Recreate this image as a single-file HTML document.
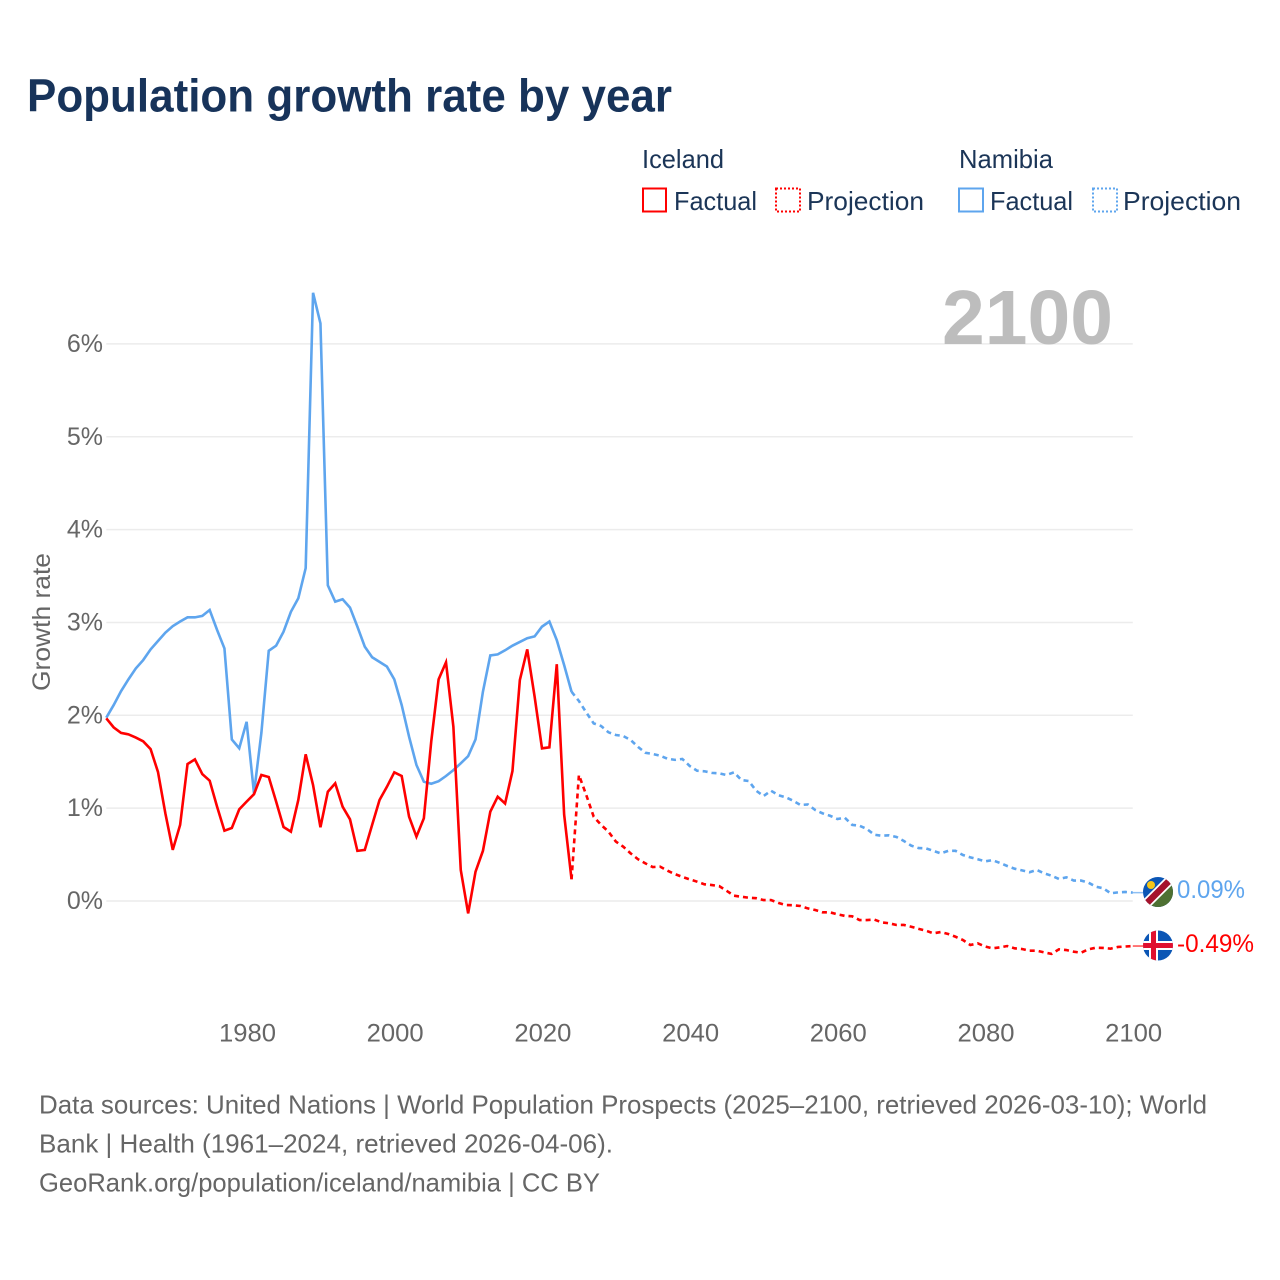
<!DOCTYPE html>
<html lang="en">
<head>
<meta charset="utf-8">
<title>Population growth rate by year</title>
<style>
html,body{margin:0;padding:0;background:#fff;}
svg{display:block;font-family:"Liberation Sans",sans-serif;}
</style>
</head>
<body>
<svg id="chart" xmlns="http://www.w3.org/2000/svg" width="1280" height="1280" viewBox="0 0 1280 1280">
  <defs>
    <clipPath id="flag-clip-namibia"><circle id="clip-nam" cx="1158" cy="892" r="15"/></clipPath>
    <clipPath id="flag-clip-iceland"><circle id="clip-ice" cx="1158" cy="945.500" r="15"/></clipPath>
  </defs>
  <rect width="1280" height="1280" fill="#ffffff"/>
  <text x="27" y="111.500" font-size="46" font-weight="700" fill="#17335a" textLength="645" lengthAdjust="spacingAndGlyphs">Population growth rate by year</text>

  <g font-size="26" fill="#1b3557">
    <text x="642" y="168" textLength="82" lengthAdjust="spacingAndGlyphs">Iceland</text>
    <rect x="643" y="188.500" width="23" height="23" fill="none" stroke="#ff0000" stroke-width="2"/>
    <text x="674" y="210" textLength="83" lengthAdjust="spacingAndGlyphs">Factual</text>
    <rect x="776" y="188.500" width="24" height="23" fill="none" stroke="#ff0000" stroke-width="2" stroke-dasharray="2 2"/>
    <text x="807" y="210" textLength="117" lengthAdjust="spacingAndGlyphs">Projection</text>
    <text x="959" y="168" textLength="94" lengthAdjust="spacingAndGlyphs">Namibia</text>
    <rect x="959" y="188.500" width="24" height="23" fill="none" stroke="#5ea5ee" stroke-width="2"/>
    <text x="990" y="210" textLength="83" lengthAdjust="spacingAndGlyphs">Factual</text>
    <rect x="1093" y="188.500" width="24" height="23" fill="none" stroke="#5ea5ee" stroke-width="2" stroke-dasharray="2 2"/>
    <text x="1123" y="210" textLength="118" lengthAdjust="spacingAndGlyphs">Projection</text>
  </g>

  <g id="grid"></g>
  <text x="942" y="344" font-size="77" font-weight="700" fill="#bdbdbd" textLength="171" lengthAdjust="spacingAndGlyphs">2100</text>
  <g id="y-axis"></g>
  <g id="x-axis"></g>
  <text transform="translate(50,622) rotate(-90)" text-anchor="middle" font-size="25" fill="#666666" textLength="138" lengthAdjust="spacingAndGlyphs">Growth rate</text>
  <g id="series"></g>

  <g id="flag-namibia" clip-path="url(#flag-clip-namibia)">
    <rect x="1143" y="877" width="30" height="30" fill="#0b56b5"/>
    <polygon points="1173,877 1173,907 1143,907" fill="#4e7032"/>
    <line x1="1140" y1="910" x2="1176" y2="874" stroke="#ffffff" stroke-width="10"/>
    <line x1="1140" y1="910" x2="1176" y2="874" stroke="#a5122c" stroke-width="6.500"/>
    <circle cx="1151" cy="885" r="4" fill="#f5c518"/>
  </g>
  <g id="flag-iceland" clip-path="url(#flag-clip-iceland)">
    <rect x="1143" y="930.500" width="30" height="30" fill="#0b56b5"/>
    <rect x="1149" y="930.500" width="9" height="30" fill="#ffffff"/>
    <rect x="1143" y="941" width="30" height="9" fill="#ffffff"/>
    <rect x="1151" y="930.500" width="5" height="30" fill="#e01030"/>
    <rect x="1143" y="943" width="30" height="5" fill="#e01030"/>
  </g>
  <text id="label-namibia" x="1177" y="898" font-size="25" fill="#5ea5ee" textLength="68" lengthAdjust="spacingAndGlyphs"></text>
  <text id="label-iceland" x="1177" y="952" font-size="25" fill="#ff0000" textLength="77" lengthAdjust="spacingAndGlyphs"></text>

  <g font-size="26" fill="#666666">
    <text x="39" y="1113.500" textLength="1168" lengthAdjust="spacingAndGlyphs">Data sources: United Nations | World Population Prospects (2025–2100, retrieved 2026-03-10); World</text>
    <text x="39" y="1152.500" textLength="574" lengthAdjust="spacingAndGlyphs">Bank | Health (1961–2024, retrieved 2026-04-06).</text>
    <text x="39" y="1191.500" textLength="561" lengthAdjust="spacingAndGlyphs">GeoRank.org/population/iceland/namibia | CC BY</text>
  </g>
</svg>
<script>
const yTicks = [0, 1, 2, 3, 4, 5, 6];
const yTickLabels = ["0%", "1%", "2%", "3%", "4%", "5%", "6%"];
const xTicks = [1980, 2000, 2020, 2040, 2060, 2080, 2100];
const xTickLabels = ["1980", "2000", "2020", "2040", "2060", "2080", "2100"];
const factualStartYear = 1961;
const projectionStartYear = 2024;
const icelandFactual = [1.967,1.87,1.81,1.795,1.76,1.72,1.636,1.39,0.944,0.55,0.82,1.475,1.525,1.367,1.296,1.016,0.757,0.786,0.987,1.07,1.15,1.357,1.335,1.07,0.797,0.747,1.088,1.58,1.249,0.794,1.177,1.267,1.016,0.88,0.54,0.55,0.82,1.088,1.23,1.386,1.346,0.908,0.693,0.89,1.716,2.387,2.57,1.877,0.334,-0.133,0.316,0.54,0.962,1.123,1.05,1.40,2.38,2.71,2.2,1.644,1.655,2.55,0.93,0.234];
const icelandProjection = [0.234,1.357,1.14,0.908,0.82,0.747,0.64,0.585,0.513,0.45,0.405,0.366,0.37,0.326,0.29,0.26,0.233,0.208,0.18,0.172,0.16,0.11,0.057,0.046,0.035,0.03,0.01,0.01,-0.02,-0.043,-0.046,-0.054,-0.08,-0.097,-0.122,-0.122,-0.143,-0.16,-0.165,-0.205,-0.205,-0.2,-0.23,-0.24,-0.258,-0.258,-0.277,-0.30,-0.32,-0.348,-0.334,-0.355,-0.385,-0.42,-0.474,-0.456,-0.49,-0.51,-0.50,-0.485,-0.51,-0.517,-0.535,-0.535,-0.553,-0.57,-0.52,-0.528,-0.546,-0.557,-0.52,-0.503,-0.506,-0.513,-0.495,-0.49,-0.485];
const namibiaFactual = [1.974,2.11,2.26,2.387,2.505,2.595,2.71,2.80,2.89,2.96,3.01,3.055,3.055,3.07,3.134,2.92,2.72,1.74,1.645,1.93,1.16,1.81,2.695,2.75,2.90,3.115,3.26,3.585,6.55,6.22,3.40,3.224,3.25,3.16,2.955,2.74,2.625,2.575,2.525,2.387,2.11,1.77,1.465,1.285,1.263,1.29,1.346,1.41,1.483,1.56,1.74,2.254,2.645,2.656,2.70,2.75,2.79,2.83,2.85,2.955,3.01,2.81,2.54,2.254];
const namibiaProjection = [2.254,2.154,2.03,1.913,1.885,1.817,1.788,1.777,1.734,1.66,1.597,1.583,1.565,1.532,1.52,1.53,1.454,1.403,1.397,1.38,1.375,1.357,1.386,1.303,1.292,1.188,1.13,1.188,1.14,1.117,1.08,1.034,1.04,0.98,0.944,0.918,0.883,0.897,0.82,0.81,0.775,0.714,0.703,0.707,0.69,0.646,0.596,0.57,0.567,0.54,0.513,0.54,0.54,0.495,0.47,0.45,0.427,0.44,0.41,0.377,0.348,0.33,0.31,0.334,0.298,0.272,0.237,0.255,0.22,0.22,0.197,0.154,0.137,0.083,0.093,0.097,0.09];
const endValueLabels = ["0.09%", "-0.49%"];

const NS = "http://www.w3.org/2000/svg";
function xScale(year) { return 246.6 + (year - 1980) * 7.385; }
function yScale(value) { return 901 - value * 92.85; }
function pathFrom(values, startYear) {
  return values.map(function (v, i) {
    return (i ? "L" : "M") + xScale(startYear + i).toFixed(2) + " " + yScale(v).toFixed(2);
  }).join(" ");
}

const grid = document.getElementById("grid");
const yAxis = document.getElementById("y-axis");
const xAxis = document.getElementById("x-axis");
const series = document.getElementById("series");

yTicks.forEach(function (t, i) {
  const line = document.createElementNS(NS, "line");
  
  
  line.setAttribute("x1", xScale(factualStartYear));
  line.setAttribute("x2", xScale(2100));
  line.setAttribute("y1", yScale(t));
  line.setAttribute("y2", yScale(t));
  line.setAttribute("stroke", "#ececec");
  line.setAttribute("stroke-width", "1.5");
  grid.appendChild(line);

  const label = document.createElementNS(NS, "text");
  
  
  label.setAttribute("x", "103");
  label.setAttribute("y", yScale(t) + 8);
  label.setAttribute("text-anchor", "end");
  label.setAttribute("font-size", "25");
  label.setAttribute("fill", "#666666");
  label.textContent = yTickLabels[i];
  yAxis.appendChild(label);
});

xTicks.forEach(function (t, i) {
  const label = document.createElementNS(NS, "text");
  
  
  label.setAttribute("x", xScale(t) + 0.9);
  label.setAttribute("y", "1041.5");
  label.setAttribute("text-anchor", "middle");
  label.setAttribute("font-size", "25");
  label.setAttribute("fill", "#666666");
  label.setAttribute("textLength", "57");
  label.setAttribute("lengthAdjust", "spacingAndGlyphs");
  label.textContent = xTickLabels[i];
  xAxis.appendChild(label);
});

function addLine(name, values, startYear, color, dash) {
  const p = document.createElementNS(NS, "path");
  
  
  p.setAttribute("d", pathFrom(values, startYear));
  p.setAttribute("fill", "none");
  p.setAttribute("stroke", color);
  p.setAttribute("stroke-width", "2.6");
  p.setAttribute("stroke-linejoin", "miter");
  if (dash) p.setAttribute("stroke-dasharray", dash);
  series.appendChild(p);
}
addLine("namibia-factual-line", namibiaFactual, factualStartYear, "#5ea5ee", null);
addLine("iceland-factual-line", icelandFactual, factualStartYear, "#ff0000", null);
addLine("namibia-projection-line", namibiaProjection, projectionStartYear, "#5ea5ee", "5 4");
addLine("iceland-projection-line", icelandProjection, projectionStartYear, "#ff0000", "5 4");

function addConnector(name, value, color) {
  const c = document.createElementNS(NS, "line");
  
  
  c.setAttribute("x1", xScale(2100));
  c.setAttribute("x2", "1143");
  c.setAttribute("y1", yScale(value));
  c.setAttribute("y2", yScale(value));
  c.setAttribute("stroke", color);
  c.setAttribute("stroke-width", "1.5");
  c.setAttribute("opacity", "0.7");
  series.appendChild(c);
}
const lastNamibia = namibiaProjection[namibiaProjection.length - 1];
const lastIceland = icelandProjection[icelandProjection.length - 1];
addConnector("namibia-end-connector", lastNamibia, "#5ea5ee");
addConnector("iceland-end-connector", lastIceland, "#ff0000");

document.getElementById("label-namibia").textContent = endValueLabels[0];
document.getElementById("label-iceland").textContent = endValueLabels[1];
</script>
</body>
</html>
